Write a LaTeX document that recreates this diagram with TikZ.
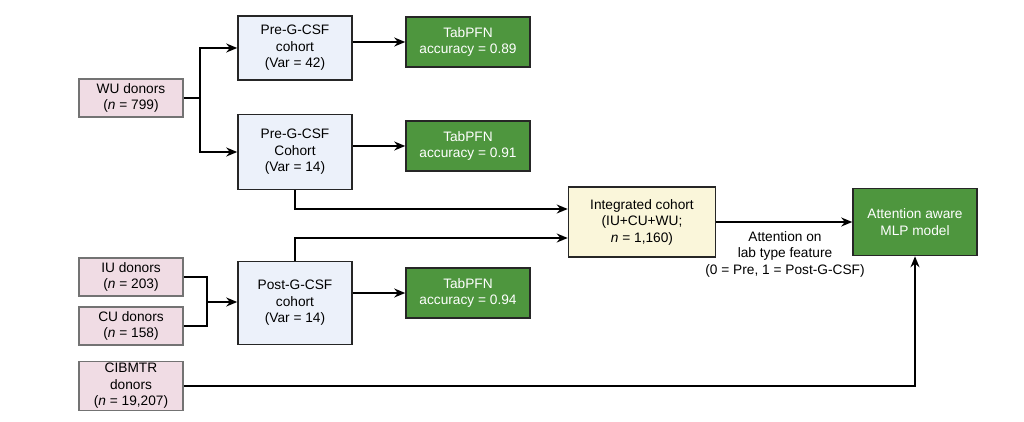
\documentclass[tikz,border=0pt]{standalone}
\usepackage{fontspec}
\setmainfont{Liberation Sans}
\usetikzlibrary{arrows.meta,positioning,calc}
\definecolor{donorpink}{RGB}{240,220,228}
\definecolor{cohortblue}{RGB}{236,241,250}
\definecolor{modelgreen}{RGB}{78,150,62}
\definecolor{intcream}{RGB}{250,246,218}
\tikzset{
  box/.style={draw=black!85, line width=0.9pt, align=center, inner sep=1pt,
    font=\fontsize{7.8}{9.4}\selectfont},
  donor/.style={box, fill=donorpink, draw=black!55, line width=0.6pt, minimum width=2.08cm, minimum height=0.76cm},
  cohort/.style={box, fill=cohortblue, minimum width=2.28cm},
  model/.style={box, fill=modelgreen, text=white, minimum width=2.48cm, minimum height=1.0cm},
  flow/.style={line width=0.9pt, -{Stealth[length=2.2mm,width=1.8mm]}},
  link/.style={line width=0.9pt}
}
\begin{document}
\begin{tikzpicture}[x=0.02cm,y=-0.02cm]
  \useasboundingbox (0,0) rectangle (1024,422);

  % donors
  \node[donor] (wu) at (131,98) {WU donors\\(\textit{n} = 799)};
  \node[donor] (iu) at (131,277) {IU donors\\(\textit{n} = 203)};
  \node[donor] (cu) at (131,326) {CU donors\\(\textit{n} = 158)};
  \node[donor, minimum height=0.98cm] (cib) at (131,386) {CIBMTR\\donors\\(\textit{n} = 19,207)};

  % cohorts
  \node[cohort, minimum height=1.28cm] (pre1) at (295,48) {Pre-G-CSF\\cohort\\(Var = 42)};
  \node[cohort, minimum height=1.5cm] (pre2) at (295,152) {Pre-G-CSF\\Cohort\\(Var = 14)};
  \node[cohort, minimum height=1.66cm] (post) at (295,303) {Post-G-CSF\\cohort\\(Var = 14)};

  % models
  \node[model] (tab1) at (468,42) {TabPFN\\accuracy = 0.89};
  \node[model] (tab2) at (468,146) {TabPFN\\accuracy = 0.91};
  \node[model] (tab3) at (468,293) {TabPFN\\accuracy = 0.94};
  \node[box, fill=intcream, minimum width=2.94cm, minimum height=1.4cm] (int) at (642,222)
    {Integrated cohort\\(IU+CU+WU;\\\textit{n} = 1,160)};
  \node[model, minimum height=1.34cm] (mlp) at (915,222) {Attention aware\\MLP model};
  \node[align=center, font=\fontsize{7.8}{9.4}\selectfont] (att) at (785,254)
    {Attention on\\lab type feature\\(0 = Pre, 1 = Post-G-CSF)};

  % connectors
  \coordinate (wuj) at (200,98);
  \draw[link] (wu.east) -- (wuj);
  \draw[flow] (wuj) |- (pre1.west);
  \draw[flow] (wuj) |- (pre2.west);
  \draw[flow] (pre1.east |- tab1) -- (tab1);
  \draw[flow] (pre2.east |- tab2) -- (tab2);
  \draw[flow] (post.east |- tab3) -- (tab3);
  \coordinate (icj) at (207,302);
  \draw[link] (iu.east) -| (icj);
  \draw[link] (cu.east) -| (icj);
  \draw[flow] (icj) -- (icj -| post.west);
  \draw[flow] (pre2.south) |- ($(int.west)+(0,-13)$);
  \draw[flow] (post.north) |- ($(int.west)+(0,16)$);
  \draw[flow] (int) -- (mlp);
  \draw[flow] (cib.east) -| (mlp.south);
\end{tikzpicture}
\end{document}
